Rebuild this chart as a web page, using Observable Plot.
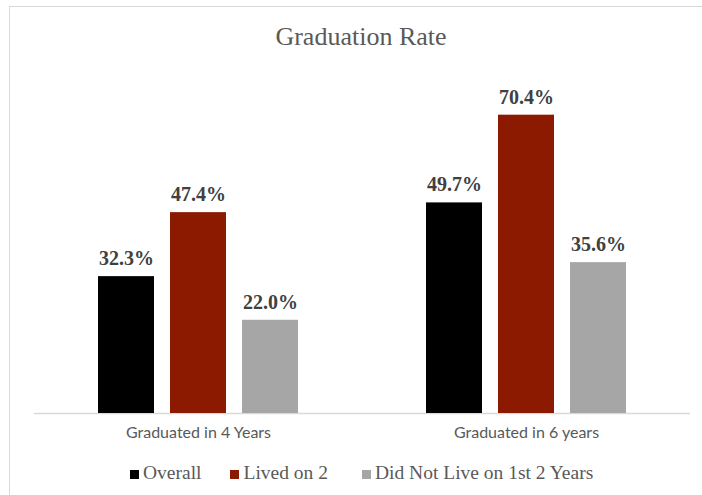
<!DOCTYPE html>
<html><head><meta charset="utf-8">
<script src="https://cdn.jsdelivr.net/npm/d3@7"></script>
<script src="https://cdn.jsdelivr.net/npm/@observablehq/plot@0.6"></script>
<style>
body{margin:0;background:#fff;}
#wrap{position:relative;width:702px;height:495px;overflow:hidden;background:#fff;}
#frame{position:absolute;left:9px;top:6px;width:740px;height:540px;border:1px solid #d9d9d9;}
#title{position:absolute;top:22px;left:10px;width:702px;text-align:center;font:26px "Liberation Serif",serif;color:#595959;}
#chart{position:absolute;left:0;top:0;}
#legend{position:absolute;top:462px;left:130px;display:flex;font:19.5px "Liberation Serif",serif;color:#595959;white-space:nowrap;}
#legend .item{display:flex;align-items:center;margin-right:29px;}
#legend .item:nth-child(2){margin-right:34px;}
#legend .sw{display:inline-block;width:9px;height:9px;margin-right:4px;margin-top:3px;}
</style>
</head><body>
<div id="wrap">
  <div id="frame"></div>
  <div id="title">Graduation Rate</div>
  <div id="chart"></div>
  <div id="legend"></div>
</div>
<script>
const categories = ["Graduated in 4 Years", "Graduated in 6 years"];
const seriesNames = ["Overall", "Lived on 2", "Did Not Live on 1st 2 Years"];
const overall = [32.3, 49.7];
const livedOn2 = [47.4, 70.4];
const didNotLive = [22.0, 35.6];
const seriesColors = ["#000000", "#8b1a00", "#a6a6a6"];

const seriesValues = [overall, livedOn2, didNotLive];
const data = [];
categories.forEach((c, i) => {
  seriesNames.forEach((s, j) => data.push({category: c, series: s, value: seriesValues[j][i]}));
});

const chart = Plot.plot({
  width: 702,
  height: 452,
  marginTop: 74,
  marginBottom: 39,
  marginLeft: 33,
  marginRight: 12,
  style: {background: "transparent", overflow: "visible"},
  fx: {domain: categories, paddingInner: 0, paddingOuter: 0, label: null},
  x: {domain: seriesNames, paddingInner: 0.22, paddingOuter: 0.86, axis: null},
  y: {domain: [0, 80], axis: null},
  color: {domain: seriesNames, range: seriesColors},
  marks: [
    Plot.ruleY([0], {stroke: "#d9d9d9", strokeWidth: 1.5}),
    Plot.barY(data, {fx: "category", x: "series", y: "value", fill: "series"}),
    Plot.text(data, {fx: "category", x: "series", y: "value", text: d => d.value.toFixed(1) + "%",
      dy: -18, fontSize: 20, fontWeight: "bold", fontFamily: "Liberation Serif", fill: "#404040"}),
    Plot.axisFx({anchor: "bottom", tickSize: 0, tickPadding: 13, fontSize: 16, fontFamily: "Lato", fill: "#595959", label: null})
  ]
});
document.getElementById("chart").appendChild(chart);

const legend = document.getElementById("legend");
seriesNames.forEach((s, i) => {
  const item = document.createElement("span");
  item.className = "item";
  const sw = document.createElement("span");
  sw.className = "sw";
  sw.style.background = seriesColors[i];
  item.appendChild(sw);
  item.appendChild(document.createTextNode(s));
  legend.appendChild(item);
});
</script>
</body></html>
